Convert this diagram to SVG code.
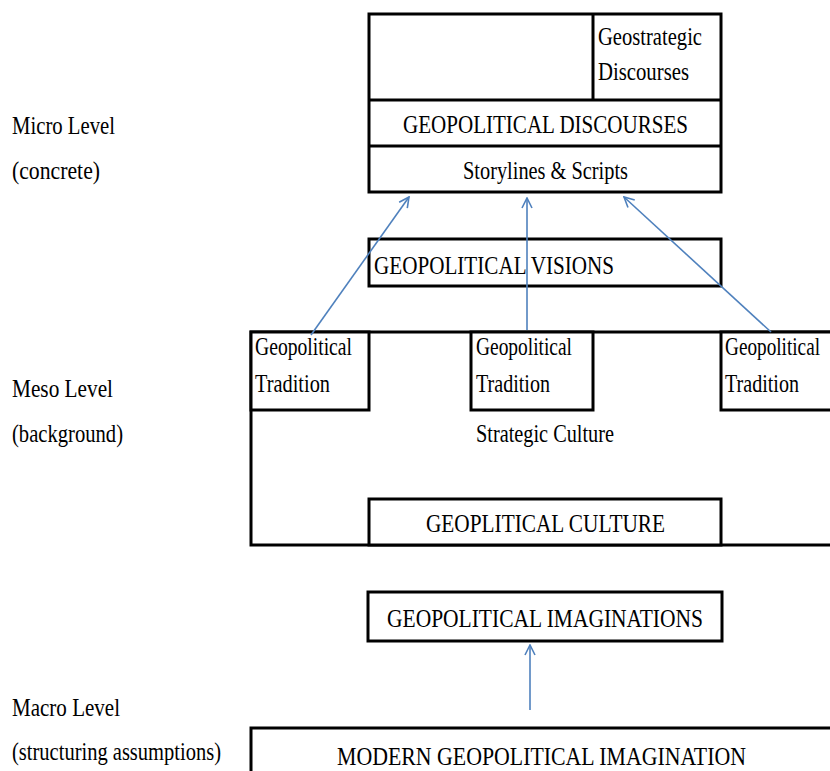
<svg xmlns="http://www.w3.org/2000/svg" width="830" height="771" viewBox="0 0 830 771" font-family="Liberation Serif, Times New Roman, serif">
<style>
.box{fill:#fff;stroke:#000;stroke-width:3}
.t{font-family:'Liberation Serif','Times New Roman',serif;font-size:25px;fill:#000}
.lv{font-family:'Liberation Serif','Times New Roman',serif;font-size:26px;fill:#000}
.conn{stroke:#4f81bd;stroke-width:1.6;fill:none;marker-end:url(#ah)}
</style>
<defs>
<marker id="ah" viewBox="0 0 12 12" refX="11" refY="6" markerWidth="12" markerHeight="12" markerUnits="userSpaceOnUse" orient="auto">
<path d="M1,1 L11,6 L1,11" fill="none" stroke="#4f81bd" stroke-width="1.6"/>
</marker>
</defs>
<rect width="830" height="771" fill="#fff"/>

<g id="labels">
<text class="lv" x="12" y="134" textLength="103" lengthAdjust="spacingAndGlyphs">Micro Level</text>
<text class="lv" x="12" y="179" textLength="88" lengthAdjust="spacingAndGlyphs">(concrete)</text>
<text class="lv" x="12" y="397" textLength="101" lengthAdjust="spacingAndGlyphs">Meso Level</text>
<text class="lv" x="12" y="442" textLength="111" lengthAdjust="spacingAndGlyphs">(background)</text>
<text class="lv" x="12" y="716" textLength="108" lengthAdjust="spacingAndGlyphs">Macro Level</text>
<text class="lv" x="12" y="760" textLength="209" lengthAdjust="spacingAndGlyphs">(structuring assumptions)</text>
</g>

<g id="discourse-stack">
<rect class="box" x="369" y="14" width="352" height="178"/>
<line x1="369" y1="100" x2="721" y2="100" stroke="#000" stroke-width="3"/>
<line x1="369" y1="146" x2="721" y2="146" stroke="#000" stroke-width="3"/>
<line x1="593" y1="14" x2="593" y2="100" stroke="#000" stroke-width="3"/>
</g>
<g id="geostrategic-discourses">
<text class="t" x="598" y="45" textLength="104" lengthAdjust="spacingAndGlyphs">Geostrategic</text>
<text class="t" x="598" y="80" textLength="91" lengthAdjust="spacingAndGlyphs">Discourses</text>
</g>
<g id="geopolitical-discourses">
<text class="t" x="403" y="133" textLength="285" lengthAdjust="spacingAndGlyphs">GEOPOLITICAL DISCOURSES</text>
</g>
<g id="storylines">
<text class="t" x="463" y="179" textLength="165" lengthAdjust="spacingAndGlyphs">Storylines &amp; Scripts</text>
</g>

<g id="geopolitical-visions">
<rect class="box" x="369" y="239" width="352" height="47"/>
<text class="t" x="374" y="274" textLength="240" lengthAdjust="spacingAndGlyphs">GEOPOLITICAL VISIONS</text>
</g>

<g id="strategic-culture">
<rect class="box" x="251" y="332" width="600" height="213"/>
<text class="t" x="476" y="442" textLength="138" lengthAdjust="spacingAndGlyphs">Strategic Culture</text>
</g>
<g id="tradition-left">
<rect class="box" x="251" y="332" width="118" height="78"/>
<text class="t" x="255" y="355" textLength="97" lengthAdjust="spacingAndGlyphs">Geopolitical</text>
<text class="t" x="255" y="392" textLength="75" lengthAdjust="spacingAndGlyphs">Tradition</text>
</g>
<g id="tradition-middle">
<rect class="box" x="471" y="332" width="122" height="78"/>
<text class="t" x="476" y="355" textLength="96" lengthAdjust="spacingAndGlyphs">Geopolitical</text>
<text class="t" x="476" y="392" textLength="74" lengthAdjust="spacingAndGlyphs">Tradition</text>
</g>
<g id="tradition-right">
<rect class="box" x="721" y="332" width="130" height="78"/>
<text class="t" x="725" y="355" textLength="95" lengthAdjust="spacingAndGlyphs">Geopolitical</text>
<text class="t" x="725" y="392" textLength="74" lengthAdjust="spacingAndGlyphs">Tradition</text>
</g>
<g id="geopolitical-culture">
<rect class="box" x="369" y="499" width="352" height="46"/>
<text class="t" x="426" y="532" textLength="239" lengthAdjust="spacingAndGlyphs">GEOPLITICAL CULTURE</text>
</g>

<g id="geopolitical-imaginations">
<rect class="box" x="368" y="592" width="354" height="49"/>
<text class="t" x="387" y="627" textLength="316" lengthAdjust="spacingAndGlyphs">GEOPOLITICAL IMAGINATIONS</text>
</g>

<g id="modern-imagination">
<rect class="box" x="251" y="728" width="600" height="60"/>
<text class="t" x="337" y="765" textLength="409" lengthAdjust="spacingAndGlyphs">MODERN GEOPOLITICAL IMAGINATION</text>
</g>

<g id="connectors">
<line class="conn" x1="311" y1="335" x2="409" y2="197"/>
<line class="conn" x1="527" y1="330" x2="527" y2="198"/>
<line class="conn" x1="771" y1="332" x2="624" y2="197"/>
<line class="conn" x1="530" y1="710" x2="530" y2="645"/>
</g>
</svg>
